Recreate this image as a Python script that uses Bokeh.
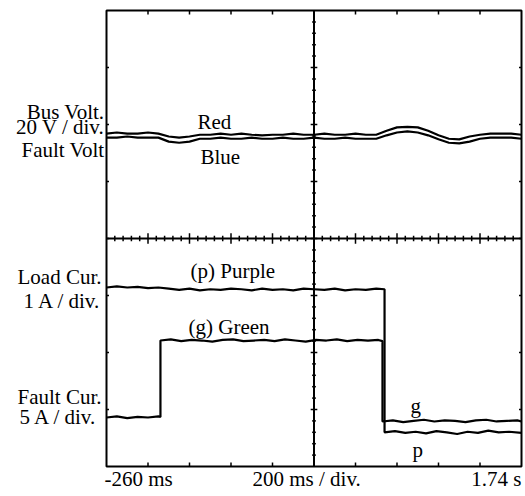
from bokeh.plotting import figure
from bokeh.models import Label
from bokeh.embed import file_html
from bokeh.resources import INLINE

# ---------------- data (screen divisions; 200 ms/div horizontally) ----------------
T_START, T_END = -0.26, 1.74
Y_MIN, Y_MAX = -4, 4

volt_t = [-0.26, -0.21, -0.16, -0.11, -0.06, -0.01, 0.04, 0.09, 0.14, 0.19,
          0.24, 0.29, 0.34, 0.39, 0.44, 0.49, 0.54, 0.59, 0.64, 0.69,
          0.74, 0.79, 0.84, 0.89, 0.94, 0.99, 1.04, 1.09, 1.14, 1.19,
          1.24, 1.29, 1.34, 1.39, 1.44, 1.49, 1.54, 1.59, 1.64, 1.69, 1.74]
bus_volt_red = [1.84, 1.86, 1.84, 1.84, 1.86, 1.84, 1.79, 1.77, 1.79, 1.82,
                1.82, 1.84, 1.82, 1.84, 1.82, 1.81, 1.82, 1.82, 1.84, 1.82,
                1.82, 1.84, 1.82, 1.82, 1.84, 1.82, 1.82, 1.89, 1.95, 1.96,
                1.95, 1.89, 1.81, 1.75, 1.74, 1.79, 1.82, 1.84, 1.84, 1.84, 1.82]
fault_volt_blue = [1.77, 1.77, 1.79, 1.77, 1.77, 1.77, 1.70, 1.68, 1.70, 1.75,
                   1.75, 1.77, 1.75, 1.75, 1.77, 1.75, 1.75, 1.77, 1.75, 1.75,
                   1.77, 1.75, 1.75, 1.77, 1.75, 1.75, 1.75, 1.81, 1.86, 1.88,
                   1.86, 1.81, 1.74, 1.68, 1.67, 1.70, 1.75, 1.77, 1.77, 1.77, 1.75]

load_t = [-0.26, -0.21, -0.16, -0.11, -0.06, -0.01, 0.04, 0.09, 0.14, 0.19,
          0.24, 0.29, 0.34, 0.39, 0.44, 0.49, 0.54, 0.59, 0.64, 0.69,
          0.74, 0.79, 0.84, 0.89, 0.94, 0.99, 1.04, 1.08,
          1.08, 1.13, 1.18, 1.23, 1.28, 1.33, 1.38, 1.43, 1.48, 1.53,
          1.58, 1.63, 1.68, 1.74]
load_cur_purple = [-0.86, -0.84, -0.86, -0.85, -0.87, -0.86, -0.88, -0.90, -0.88, -0.91,
                   -0.89, -0.90, -0.88, -0.89, -0.91, -0.88, -0.90, -0.89, -0.91, -0.88,
                   -0.89, -0.90, -0.88, -0.91, -0.89, -0.90, -0.88, -0.89,
                   -3.40, -3.38, -3.41, -3.39, -3.42, -3.38, -3.40, -3.43, -3.39, -3.41,
                   -3.37, -3.40, -3.39, -3.41]

fault_t = [-0.26, -0.21, -0.16, -0.11, -0.06, -0.01, 0.0,
           0.0, 0.05, 0.10, 0.15, 0.20, 0.25, 0.30, 0.35, 0.40, 0.45,
           0.50, 0.55, 0.60, 0.65, 0.70, 0.75, 0.80, 0.85, 0.90, 0.95,
           1.00, 1.05, 1.07,
           1.07, 1.12, 1.17, 1.22, 1.27, 1.32, 1.37, 1.42, 1.47, 1.52,
           1.57, 1.62, 1.67, 1.72, 1.74]
fault_cur_green = [-3.14, -3.12, -3.15, -3.13, -3.14, -3.12, -3.13,
                   -1.79, -1.77, -1.80, -1.78, -1.79, -1.81, -1.78, -1.77, -1.80, -1.79,
                   -1.78, -1.80, -1.77, -1.79, -1.81, -1.78, -1.79, -1.77, -1.80, -1.78,
                   -1.79, -1.78, -1.80,
                   -3.21, -3.19, -3.22, -3.20, -3.18, -3.21, -3.19, -3.20, -3.22, -3.19,
                   -3.18, -3.21, -3.20, -3.19, -3.21]

# ---------------- layout: plot frame fills the canvas ----------------
W, H = 525, 496
SCR_LEFT, SCR_RIGHT, SCR_TOP, SCR_BOTTOM = 106, 521, 10, 466   # scope screen in pixels
px_per_t = (SCR_RIGHT - SCR_LEFT) / (T_END - T_START)
px_per_y = (SCR_BOTTOM - SCR_TOP) / (Y_MAX - Y_MIN)
x_range = (T_START - SCR_LEFT / px_per_t, T_END + (W - SCR_RIGHT) / px_per_t)
y_range = (Y_MIN - (H - SCR_BOTTOM) / px_per_y, Y_MAX + SCR_TOP / px_per_y)

p = figure(width=W, height=H, x_range=x_range, y_range=y_range,
           output_backend="svg", toolbar_location=None,
           x_axis_type=None, y_axis_type=None,
           min_border=0, outline_line_color=None)
p.background_fill_color = "white"
p.border_fill_color = "white"

DIV_T = 0.2
t_mid = (T_START + T_END) / 2

# screen border and centre crosshair
p.quad(left=[T_START], right=[T_END], bottom=[Y_MIN], top=[Y_MAX],
       fill_color=None, line_color="black", line_width=2)
p.segment(x0=[T_START, t_mid], y0=[0, Y_MIN], x1=[T_END, t_mid], y1=[0, Y_MAX],
          line_color="black", line_width=2)

# tick marks on the crosshair and the border
x0, x1, y0, y1 = [], [], [], []
for k in range(1, 50):
    t = T_START + k * DIV_T / 5
    h = 0.09 if k % 5 == 0 else 0.05
    x0 += [t]; x1 += [t]; y0 += [-h]; y1 += [h]
for k in range(1, 40):
    y = Y_MIN + k * 0.2
    w = 0.016 if k % 5 == 0 else 0.009
    x0 += [t_mid - w]; x1 += [t_mid + w]; y0 += [y]; y1 += [y]
for k in range(1, 10):
    t = T_START + k * DIV_T
    x0 += [t, t]; x1 += [t, t]; y0 += [Y_MAX, Y_MIN]; y1 += [Y_MAX - 0.07, Y_MIN + 0.07]
for k in range(1, 8):
    y = Y_MIN + k
    x0 += [T_START, T_END]; x1 += [T_START + 0.012, T_END - 0.012]; y0 += [y, y]; y1 += [y, y]
p.segment(x0=x0, y0=y0, x1=x1, y1=y1, line_color="black", line_width=1.5)

# traces
for xs, ys in [(volt_t, bus_volt_red), (volt_t, fault_volt_blue),
               (load_t, load_cur_purple), (fault_t, fault_cur_green)]:
    p.line(xs, ys, line_color="black", line_width=2.2)

FONT = "Liberation Serif"
FS = "21px"

def lab(text, x, y, align="left"):
    # x = left/right pixel, y = baseline pixel, both from the canvas top-left
    p.add_layout(Label(x=x, y=H - y + 7, x_units="screen", y_units="screen", text=text,
                       text_font=FONT, text_font_size=FS, text_color="black",
                       text_align=align, text_baseline="alphabetic"))

# left-hand channel labels
lab("Bus Volt.", 104, 118, "right")
lab("20 V / div.", 104, 133, "right")
lab("Fault Volt", 104, 156, "right")
lab("Load Cur.", 101, 283, "right")
lab("1 A / div.", 101, 307, "right")
lab("Fault Cur.", 101, 403, "right")
lab("5 A / div.", 97, 423, "right")
# trace names
lab("Red", 197, 128)
lab("Blue", 200, 163)
lab("(p) Purple", 190, 277)
lab("(g) Green", 188, 333)
lab("g", 410, 412)
lab("p", 412, 456)
# time base
lab("-260 ms", 104, 485)
lab("200 ms / div.", 252, 485)
lab("1.74 s", 521, 485, "right")

open("out.html", "w").write(file_html(p, INLINE))
